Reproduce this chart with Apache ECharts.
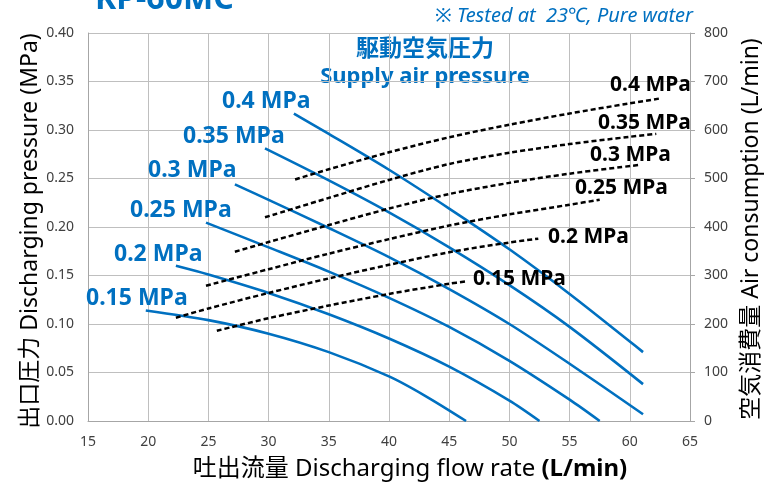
<!DOCTYPE html>
<html>
<head>
<meta charset="utf-8">
<script src="https://cdn.jsdelivr.net/npm/echarts@6/dist/echarts.min.js"></script>
<style>
html,body{margin:0;padding:0;background:#fff;}
#main{width:775px;height:488px;}
</style>
</head>
<body>
<div id="main"></div>
<script>
// ---- Axis ticks ----
const flowTicks = [15, 20, 25, 30, 35, 40, 45, 50, 55, 60, 65];
const pressureTicks = [0, 0.05, 0.10, 0.15, 0.20, 0.25, 0.30, 0.35, 0.40];
const airTicks = [0, 100, 200, 300, 400, 500, 600, 700, 800];

// ---- Supply air pressure levels ----
const levelNames = ['0.15 MPa', '0.2 MPa', '0.25 MPa', '0.3 MPa', '0.35 MPa', '0.4 MPa'];

// ---- Discharging pressure curves (flow L/min -> MPa) ----
const p015Flow = [19.8, 25, 30, 35, 40, 43, 46.4];
const p015Pres = [0.114, 0.104, 0.090, 0.071, 0.046, 0.026, 0.0];
const p020Flow = [22.3, 25, 30, 35, 40, 45, 50, 52.5];
const p020Pres = [0.160, 0.151, 0.132, 0.110, 0.085, 0.056, 0.021, 0.0];
const p025Flow = [24.8, 30, 35, 40, 45, 50, 55, 57.5];
const p025Pres = [0.2045, 0.179, 0.154, 0.127, 0.097, 0.062, 0.022, 0.0];
const p030Flow = [27.2, 30, 35, 40, 45, 50, 55, 61.1];
const p030Pres = [0.244, 0.228, 0.199, 0.169, 0.136, 0.100, 0.059, 0.007];
const p035Flow = [29.7, 35, 40, 45, 50, 55, 61.1];
const p035Pres = [0.281, 0.248, 0.215, 0.179, 0.140, 0.097, 0.038];
const p040Flow = [32.1, 35, 40, 45, 50, 55, 60, 61.1];
const p040Pres = [0.317, 0.296, 0.259, 0.219, 0.177, 0.131, 0.082, 0.071];

// ---- Air consumption curves (flow L/min -> L/min) ----
const a015Flow = [25.7, 30, 35, 40, 45, 46.4];
const a015Air = [186, 212, 238, 262, 283, 288];
const a020Flow = [22.3, 25, 30, 35, 40, 45, 50, 52.4];
const a020Air = [213, 232, 264, 294, 322, 348, 368, 376];
const a025Flow = [24.8, 30, 35, 40, 45, 50, 55, 57.5];
const a025Air = [279, 313, 345, 375, 403, 426, 446, 456];
const a030Flow = [27.2, 30, 35, 40, 45, 50, 55, 60.8];
const a030Air = [349, 369, 404, 438, 468, 491, 510, 528];
const a035Flow = [29.7, 35, 40, 45, 50, 55, 60, 62.2];
const a035Air = [420, 460, 497, 530, 553, 571, 586, 592];
const a040Flow = [32.2, 35, 40, 45, 50, 55, 60, 62.5];
const a040Air = [498, 519, 554, 585, 611, 634, 655, 665];

const BLUE = '#0070C0';
const FONT = '"Noto Sans", "Noto Sans CJK JP", sans-serif';

function zip(xs, ys) { return xs.map((x, i) => [x, ys[i]]); }

const presSets = [[p015Flow, p015Pres], [p020Flow, p020Pres], [p025Flow, p025Pres],
                  [p030Flow, p030Pres], [p035Flow, p035Pres], [p040Flow, p040Pres]];
const airSets = [[a015Flow, a015Air], [a020Flow, a020Air], [a025Flow, a025Air],
                 [a030Flow, a030Air], [a035Flow, a035Air], [a040Flow, a040Air]];

const series = [];
presSets.forEach((s, i) => {
  series.push({
    name: 'P ' + levelNames[i], type: 'line', xAxisIndex: 0, yAxisIndex: 0,
    data: zip(s[0], s[1]), smooth: 0.3, symbol: 'none',
    lineStyle: { color: BLUE, width: 2.6 }, z: 3
  });
});
airSets.forEach((s, i) => {
  series.push({
    name: 'A ' + levelNames[i], type: 'line', xAxisIndex: 0, yAxisIndex: 1,
    data: zip(s[0], s[1]), smooth: 0.3, symbol: 'none',
    lineStyle: { color: '#000', width: 2.5, type: [5, 3] }, z: 4
  });
});

// label anchor positions (pixels)
const blueLabelPos = [[86, 298], [114, 254], [130, 210], [148, 170], [183, 136], [222, 101]];
const blackLabelPos = [[473, 279], [548, 237], [575, 188], [590, 155], [598, 123], [610, 85]];

const graphics = [];
levelNames.forEach((n, i) => {
  graphics.push({ type: 'text', x: blueLabelPos[i][0], y: blueLabelPos[i][1], z: 10,
    style: { text: n, font: 'bold 23px ' + FONT, fill: BLUE, align: 'left', verticalAlign: 'middle' } });
  graphics.push({ type: 'text', x: blackLabelPos[i][0], y: blackLabelPos[i][1], z: 10,
    style: { text: n, font: 'bold 21px ' + FONT, fill: '#000', align: 'left', verticalAlign: 'middle' } });
});
graphics.push(
  { type: 'text', x: 95, y: 0, style: { text: 'KP-60MC', font: 'bold 32px ' + FONT, fill: BLUE, align: 'left', verticalAlign: 'middle' } },
  { type: 'text', x: 693, y: 16, style: { text: '※ Tested at  23℃, Pure water', font: 'italic 20px ' + FONT, fill: BLUE, align: 'right', verticalAlign: 'middle' } },
  { type: 'text', x: 425, y: 49, style: { text: '駆動空気圧力', font: 'bold 23px ' + FONT, fill: BLUE, align: 'center', verticalAlign: 'middle' } },
  { type: 'text', x: 425, y: 77, style: { text: 'Supply air pressure', font: 'bold 22px ' + FONT, fill: BLUE, align: 'center', verticalAlign: 'middle' } },
  { type: 'text', x: 30, y: 231, rotation: Math.PI / 2,
    style: { text: '出口圧力 Discharging pressure (MPa)', font: '23px ' + FONT, fill: '#000', align: 'center', verticalAlign: 'middle' } },
  { type: 'text', x: 751, y: 229, rotation: Math.PI / 2,
    style: { text: '空気消費量 Air consumption (L/min)', font: '23px ' + FONT, fill: '#000', align: 'center', verticalAlign: 'middle' } },
  { type: 'text', x: 410, y: 469,
    style: { text: '{n|吐出流量 Discharging flow rate }{b|(L/min)}', align: 'center', verticalAlign: 'middle',
      rich: { n: { font: '24px ' + FONT, fill: '#000' }, b: { font: 'bold 24px ' + FONT, fill: '#000' } } } }
);

const chart = echarts.init(document.getElementById('main'), null, { renderer: 'canvas' });
chart.setOption({
  animation: false,
  backgroundColor: '#fff',
  grid: { left: 88, right: 85, top: 33, bottom: 67, containLabel: false },
  xAxis: {
    type: 'value', min: flowTicks[0], max: flowTicks[flowTicks.length - 1], interval: 5,
    axisLine: { show: true, lineStyle: { color: '#a6a6a6', width: 1 } },
    axisTick: { show: false },
    axisLabel: { color: '#404040', fontSize: 14, fontFamily: FONT, margin: 14 },
    splitLine: { show: true, lineStyle: { color: '#bfbfbf', width: 1 } }
  },
  yAxis: [{
    type: 'value', min: pressureTicks[0], max: pressureTicks[pressureTicks.length - 1], interval: 0.05,
    position: 'left',
    axisLine: { show: true, lineStyle: { color: '#a6a6a6', width: 1 } },
    axisTick: { show: false },
    axisLabel: { color: '#404040', fontSize: 14, fontFamily: FONT, margin: 14, formatter: v => v.toFixed(2) },
    splitLine: { show: true, lineStyle: { color: '#bfbfbf', width: 1 } }
  }, {
    type: 'value', min: airTicks[0], max: airTicks[airTicks.length - 1], interval: 100,
    position: 'right',
    axisLine: { show: true, lineStyle: { color: '#a6a6a6', width: 1 } },
    axisTick: { show: true, inside: false, length: 5, lineStyle: { color: '#a6a6a6' } },
    axisLabel: { color: '#404040', fontSize: 14, fontFamily: FONT, margin: 14 },
    splitLine: { show: false }
  }],
  series: series,
  graphic: graphics
});
</script>
</body>
</html>
